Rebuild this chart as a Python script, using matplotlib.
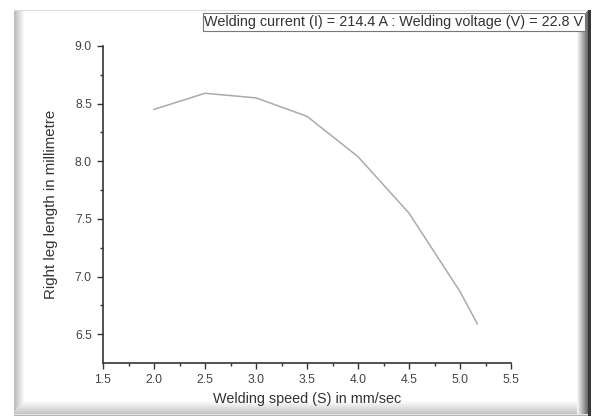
import matplotlib
matplotlib.use('Agg')
import matplotlib.pyplot as plt
import numpy as np

# Data
speed = [2.0, 2.5, 3.0, 3.5, 4.0, 4.5, 5.0, 5.17]
leg_length = [8.45, 8.59, 8.55, 8.39, 8.04, 7.55, 6.87, 6.59]
title_text = 'Welding current (I) = 214.4 A : Welding voltage (V) = 22.8 V'

plt.rcParams['font.family'] = ['Liberation Sans', 'DejaVu Sans']

W, H = 593, 417
fig = plt.figure(figsize=(W / 100, H / 100), dpi=100)

# Bevelled frame drawn as a background image
bg = np.ones((H, W, 3))
# left bevel
for i, x in enumerate(range(14, 24)):
    bg[10:416, x] = 0.74 + 0.026 * i
# top line
bg[10, 14:590] = 0.86
# bottom bevel
for i, y in enumerate(range(401, 414)):
    bg[y, 14 + max(0, 10 - i):590 - max(0, 12 - i)] = 0.99 - 0.018 * i
bg[414, 14:590] = 0.9
bg[415, 14:590] = 0.7
# right bevel
for i, x in enumerate(range(577, 589)):
    bg[10 + max(0, 11 - i):414, x] = 0.97 - 0.055 * i
bg[10:416, 588:591] = 0.22
bg[416:, :] = 1.0

bgax = fig.add_axes([0, 0, 1, 1])
bgax.imshow(bg, aspect='auto', extent=(0, W, H, 0), interpolation='nearest')
bgax.set_xlim(0, W)
bgax.set_ylim(H, 0)
bgax.axis('off')

# Title box
bgax.text(394, 22, title_text, ha='center', va='center', fontsize=10.4, color='#333333',
          bbox=dict(boxstyle='square,pad=0.12', facecolor='white', edgecolor='#777777', linewidth=0.8))

# Main axes
ax = fig.add_axes([103 / W, (H - 363) / H, (511 - 103) / W, (363 - 46) / H])
ax.patch.set_alpha(0)
ax.plot(speed, leg_length, color='#aaaaaa', linewidth=1.1)

ax.set_xlim(1.5, 5.5)
ax.set_ylim(6.25, 9.0)
ax.set_xticks(np.arange(1.5, 5.51, 0.5))
ax.set_xticks(np.arange(1.75, 5.5, 0.5), minor=True)
ax.set_yticks(np.arange(6.5, 9.01, 0.5))
ax.set_yticks(np.arange(6.75, 9.0, 0.5), minor=True)
ax.xaxis.set_major_formatter(matplotlib.ticker.FormatStrFormatter('%.1f'))
ax.yaxis.set_major_formatter(matplotlib.ticker.FormatStrFormatter('%.1f'))

for side in ['top', 'right']:
    ax.spines[side].set_visible(False)
for side in ['left', 'bottom']:
    ax.spines[side].set_color('#333333')
    ax.spines[side].set_linewidth(1.2)

ax.tick_params(which='major', direction='out', length=4, width=1, color='#333333',
               labelsize=8.8, labelcolor='#444444', pad=4)
ax.tick_params(which='minor', direction='out', length=2.5, width=1, color='#333333')

ax.set_xlabel('Welding speed (S) in mm/sec', fontsize=10.4, color='#333333', labelpad=4)
ax.set_ylabel('Right leg length in millimetre', fontsize=10.8, color='#333333', labelpad=12)

fig.savefig('out.png', dpi=100)
